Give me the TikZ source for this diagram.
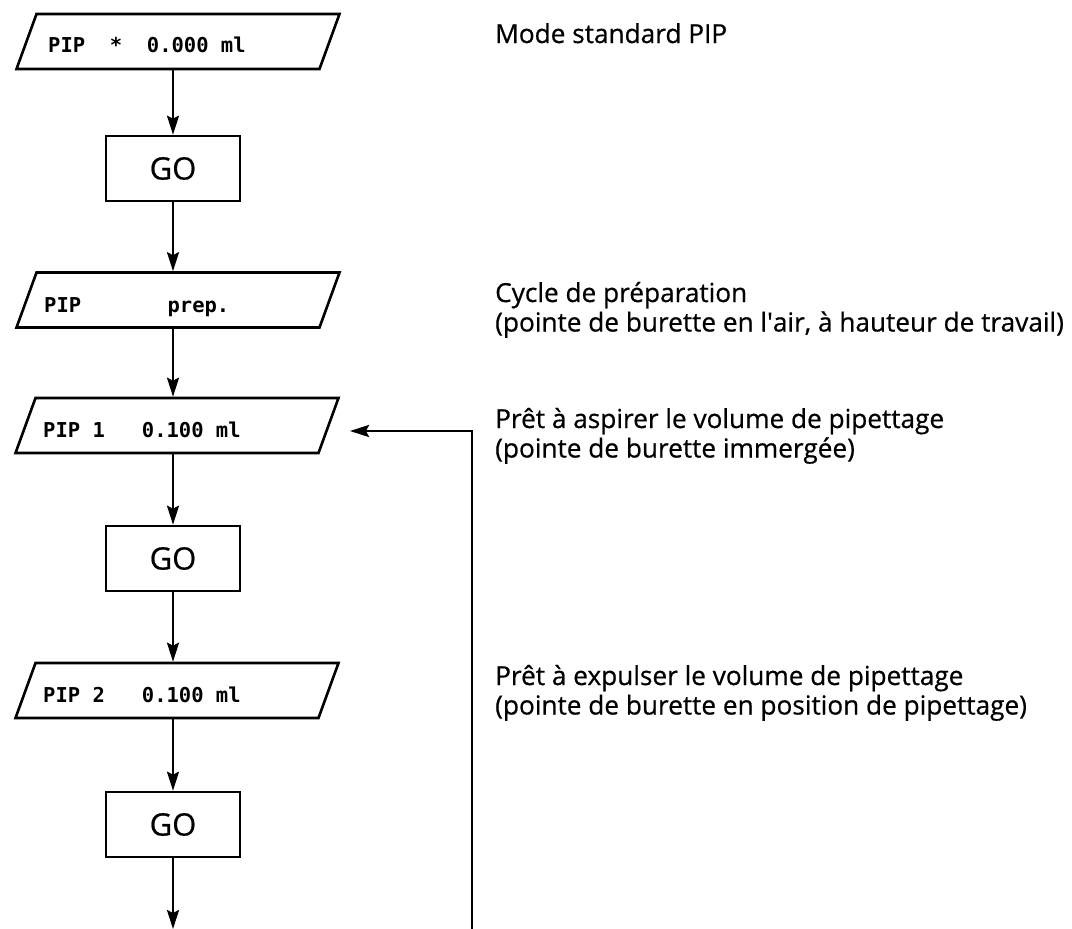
\documentclass[tikz,border=0pt]{standalone}
\usepackage{fontspec}
\setmainfont{Open Sans}
\newfontfamily\descfont{Open Sans}[FakeBold=0.6]
\newfontfamily\dispfont[WordSpace={1,0,0}]{DejaVu Sans Mono}
\usetikzlibrary{shapes.geometric,arrows.meta}
\begin{document}
\begin{tikzpicture}[x=1pt,y=-1pt,
  para/.style={draw, line width=2.6pt, trapezium, trapezium left angle=70,
    trapezium right angle=110, trapezium stretches body=true,
    minimum width=323pt, minimum height=55pt, inner xsep=3pt, inner ysep=21.5pt,
    font=\fontsize{10}{12}\selectfont},
  gobox/.style={draw, line width=2.6pt, rectangle, minimum width=134pt,
    minimum height=65pt, inner sep=0pt, font=\descfont\fontsize{31}{36}\selectfont},
  disp/.style={inner sep=0pt, anchor=base west, font=\dispfont\bfseries\fontsize{20.5}{24}\selectfont},
  desc/.style={inner sep=0pt, anchor=base west, font=\descfont\fontsize{26.2}{29.5}\selectfont},
  arr/.style={line width=2.6pt, -{Stealth[length=19pt,width=12pt,inset=3pt]}}]
\useasboundingbox[fill=white] (0,0) rectangle (1072,929);

% flow nodes
\node[para] (p1) at (178,41.5) {\strut};
\node[gobox] (go1) at (173,168.5) {GO};
\node[para] (p2) at (178,300) {\strut};
\node[para] (p3) at (177,425.5) {\strut};
\node[gobox] (go2) at (173,558.5) {GO};
\node[para] (p4) at (177,690.5) {\strut};
\node[gobox] (go3) at (173,824.5) {GO};

% display texts
\node[disp] (t1) at (48,52) {PIP~~*~~0.000~ml};
\node[disp] (t2) at (44,312) {PIP~~~~~~~prep.};
\node[disp] (t3) at (43,437) {PIP~1~~~0.100~ml};
\node[disp] (t4) at (43,702) {PIP~2~~~0.100~ml};

% descriptions
\node[desc] (r1) at (495,43) {Mode standard PIP};
\node[desc] (r2) at (495,302) {\begin{tabular}[t]{@{}l@{}}Cycle de préparation\\(pointe de burette en l\textquotesingle air, à hauteur de travail)\end{tabular}};
\node[desc] (r3) at (495,428) {\begin{tabular}[t]{@{}l@{}}Prêt à aspirer le volume de pipettage\\(pointe de burette immergée)\end{tabular}};
\node[desc] (r4) at (495,685) {\begin{tabular}[t]{@{}l@{}}Prêt à expulser le volume de pipettage\\(pointe de burette en position de pipettage)\end{tabular}};

% connectors
\coordinate (out) at (173,929);
\coordinate (fb0) at (472,929);
\coordinate (fb1) at (350,431);
\draw[arr] (go1.north |- p1.south) -- (go1.north);
\draw[arr] (go1.south) -- (go1.south |- p2.north);
\draw[arr] (go1.south |- p2.south) -- (go1.south |- p3.north);
\draw[arr] (go2.north |- p3.south) -- (go2.north);
\draw[arr] (go2.south) -- (go2.south |- p4.north);
\draw[arr] (go3.north |- p4.south) -- (go3.north);
\draw[arr] (go3.south) -- (out);
\draw[arr] (fb0) |- (fb1);
\end{tikzpicture}
\end{document}
